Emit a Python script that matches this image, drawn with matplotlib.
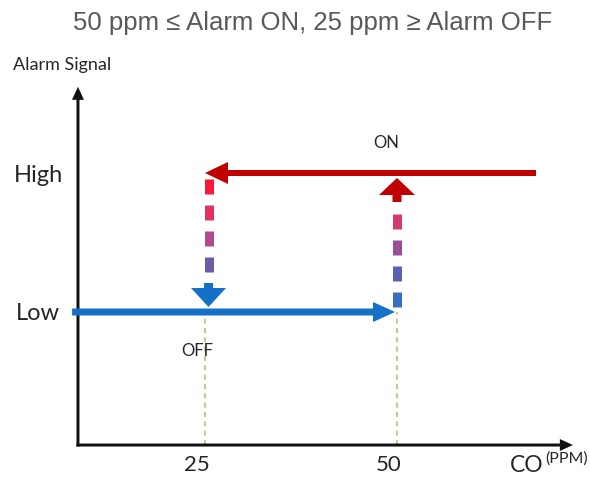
import numpy as np
import matplotlib.pyplot as plt
from matplotlib.patches import FancyArrowPatch
from matplotlib.colors import LinearSegmentedColormap

# --- chart values -------------------------------------------------------
thresholds = [25, 50]            # alarm OFF / alarm ON (ppm)
tick_labels = ['25', '50']
levels = [1, 2]                  # Low, High
level_labels = ['Low', 'High']
low_start = 7.7                  # ppm where the Low line starts
high_start = 68.1                # ppm where the High line starts (runs leftward)
title = '50 ppm \u2264 Alarm ON, 25 ppm \u2265 Alarm OFF'

# --- canvas: one axes over the whole figure, data units ~ pixels ----------
DPI = 100
fig = plt.figure(figsize=(5.9, 4.8), dpi=DPI)
ax = fig.add_axes([0, 0, 1, 1])
PX_X = 1 / 7.68                  # one pixel in ppm
PX_Y = 1 / 139                   # one pixel in signal level
ax.set_xlim(-13 * PX_X, 577 * PX_X)
ax.set_ylim(-29 * PX_Y, 451 * PX_Y)
ax.axis('off')

FONT = ['Lato', 'DejaVu Sans']
TXT = '#262626'
RED = '#c00000'
BLUE = '#1570c8'
MS = 72 / DPI                    # mutation scale -> arrow sizes in pixels


def arrow(p0, p1, color, tail, hl, hw, z=3):
    style = f'simple,head_length={hl},head_width={hw},tail_width={tail}'
    ax.add_patch(FancyArrowPatch(p0, p1, arrowstyle=style, mutation_scale=MS,
                                 lw=0, color=color, shrinkA=0, shrinkB=0,
                                 zorder=z))


# axes with arrow heads
x0, y0 = 8.46, 0.043
arrow((x0 - 1.5 * PX_X, y0), (72.9, y0), '#111111', 3, 13, 12, z=2)
arrow((x0, y0 - 1.5 * PX_Y), (x0, 2.62), '#111111', 3, 13, 12, z=2)

# dashed guide lines from the x axis up to Low
for t in thresholds:
    ax.plot([t, t], [y0, levels[0]], color='#cfc3a4', lw=1.6,
            ls=(0, (2.3, 1.9)), zorder=1)

# Low line (rising CO) and High line (falling CO)
arrow((low_start, levels[0]), (thresholds[1] - 2 * PX_X, levels[0]),
      BLUE, 7, 22, 20, z=4)
arrow((high_start, levels[1]), (thresholds[0], levels[1]),
      RED, 6, 23, 22, z=4)

# gradient dashed connectors
cmap = LinearSegmentedColormap.from_list(
    'rb', ['#ff1030', '#e8305a', '#b04a90', '#5f5fb0', '#3a6ec0'])


def grad_dashes(x, a, b):
    lo, hi = min(a, b), max(a, b)
    step = 26 * PX_Y
    dash = 15 * PX_Y
    t = 0.0
    while t < (hi - lo) - 2 * PX_Y:
        s = a + np.sign(b - a) * t
        e = a + np.sign(b - a) * min(t + dash, hi - lo)
        mid = (s + e) / 2
        c = cmap(np.clip((1.95 - mid) / (1.95 - 1.086), 0, 1))
        ax.plot([x, x], [s, e], color=c, lw=9 * 0.72,
                solid_capstyle='butt', zorder=3)
        t += step


# OFF: High -> Low at 25 ppm
xl = thresholds[0] + 3.5 * PX_X
grad_dashes(xl, levels[1] - 6 * PX_Y, levels[0] + 29 * PX_Y)
arrow((xl, levels[0] + 29 * PX_Y), (xl, levels[0] + 5 * PX_Y),
      BLUE, 9, 19, 35, z=5)

# ON: Low -> High at 50 ppm
xr = thresholds[1]
grad_dashes(xr, levels[0] + 5 * PX_Y, levels[1] - 29 * PX_Y)
arrow((xr, levels[1] - 29 * PX_Y), (xr, levels[1] - 5 * PX_Y),
      RED, 9, 17, 36, z=5)

# --- texts ---------------------------------------------------------------
fig.text(313 / 590, 1 - 23 / 480, title, ha='center', va='center',
         fontsize=18.5, color='#595959', family='Liberation Sans')
fig.text(13 / 590, 1 - 65 / 480, 'Alarm Signal', ha='left', va='center',
         fontsize=13, color=TXT, family=FONT)

for lv, lab in zip(levels, level_labels):
    ax.text(25 * PX_X, lv - 2 * PX_Y, lab, ha='center', va='center',
            fontsize=17, color=TXT, family=FONT)

for t, lab in zip(thresholds, tick_labels):
    ax.text(t - 8 * PX_X, y0 - 20 * PX_Y, lab, ha='center', va='center',
            fontsize=16, color=TXT, family=FONT)

ax.text(514 * PX_X, -15 * PX_Y, 'CO', ha='center', va='center',
        fontsize=16.5, color=TXT, family=FONT)
ax.text(532 * PX_X, -8 * PX_Y, '(PPM)', ha='left', va='center',
        fontsize=11.5, color=TXT, family=FONT)

ax.text(thresholds[1] - 11 * PX_X, levels[1] + 30 * PX_Y, 'ON',
        ha='center', va='center', fontsize=12, color=TXT, family=FONT)
ax.text(thresholds[0] - 8 * PX_X, levels[0] - 39 * PX_Y, 'OFF',
        ha='center', va='center', fontsize=12, color=TXT, family=FONT)

fig.savefig('out.png', dpi=DPI)
